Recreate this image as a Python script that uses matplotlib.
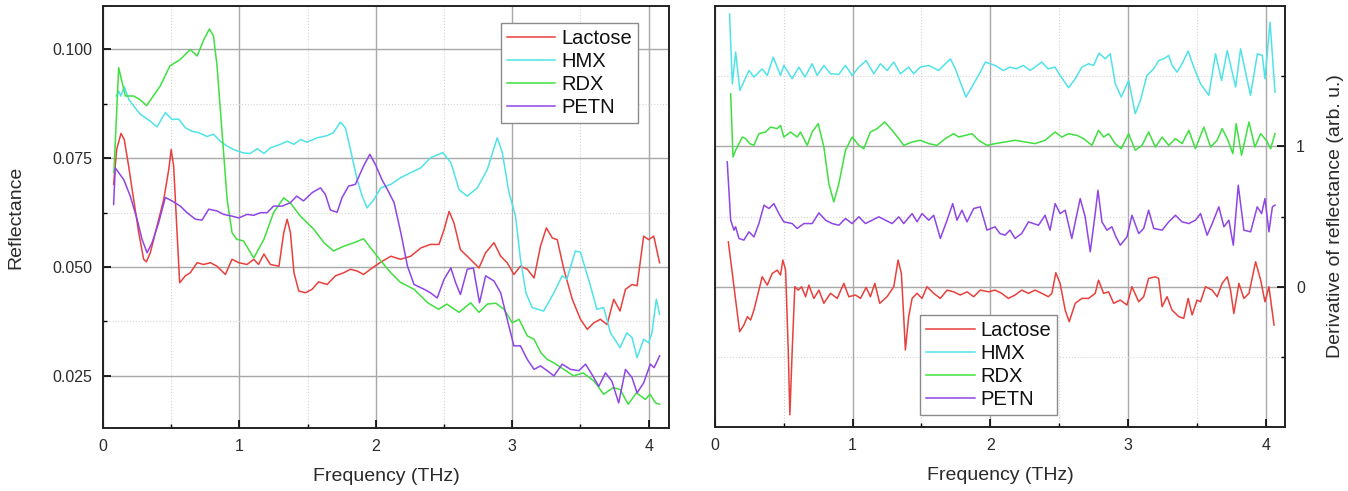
import matplotlib
matplotlib.use("Agg")
import matplotlib.pyplot as plt
from matplotlib.ticker import MultipleLocator, FixedLocator, FormatStrFormatter

plt.rcParams['font.family'] = ['Liberation Sans', 'DejaVu Sans']

# ---- left panel: reflectance ----
lac_f = [0.078, 0.10, 0.132, 0.156, 0.188, 0.225, 0.262, 0.298, 0.318, 0.347, 0.396, 0.445, 0.482, 0.50, 0.518,
         0.543, 0.562, 0.604, 0.64, 0.69, 0.738, 0.787, 0.836, 0.897, 0.946, 0.995, 1.056, 1.105, 1.14, 1.18,
         1.227, 1.29, 1.325, 1.35, 1.374, 1.40, 1.435, 1.484, 1.533, 1.58, 1.643, 1.704, 1.765, 1.814, 1.863,
         1.91, 1.973, 2.03, 2.11, 2.18, 2.256, 2.33, 2.40, 2.463, 2.50, 2.537, 2.573, 2.62, 2.683, 2.756,
         2.805, 2.866, 2.915, 2.963, 3.012, 3.06, 3.11, 3.16, 3.207, 3.25, 3.293, 3.33, 3.378, 3.44, 3.50,
         3.55, 3.598, 3.646, 3.695, 3.744, 3.79, 3.83, 3.878, 3.915, 3.963, 4.0, 4.037, 4.08]
lac_r = [0.069, 0.077, 0.0807, 0.0793, 0.0732, 0.0655, 0.0579, 0.0518, 0.0512, 0.0533, 0.0594, 0.0655, 0.0724, 0.077, 0.0732,
         0.0579, 0.0464, 0.048, 0.0487, 0.051, 0.0506, 0.051, 0.0502, 0.0483, 0.0518, 0.051, 0.0506, 0.0518, 0.0506, 0.053,
         0.0506, 0.0502, 0.0579, 0.061, 0.0579, 0.0487, 0.0445, 0.0441, 0.0449, 0.0466, 0.046, 0.048, 0.0487, 0.0495, 0.0491,
         0.0483, 0.0498, 0.051, 0.0525, 0.0518, 0.0525, 0.0544, 0.0552, 0.0552, 0.0586, 0.0628, 0.0601, 0.054, 0.0521, 0.0498,
         0.0533, 0.0556, 0.0525, 0.051, 0.0483, 0.0502, 0.0495, 0.0475, 0.0548, 0.059, 0.0567, 0.0563, 0.0495, 0.0426, 0.038,
         0.0357, 0.0372, 0.038, 0.0368, 0.0426, 0.0399, 0.0449, 0.046, 0.0457, 0.0571, 0.0563, 0.0571, 0.051]

hmx_f = [0.098, 0.115, 0.13, 0.156, 0.19, 0.225, 0.274, 0.347, 0.396, 0.457, 0.506, 0.555, 0.604, 0.653, 0.70,
         0.763, 0.81, 0.86, 0.91, 0.958, 1.03, 1.08, 1.13, 1.18, 1.227, 1.30, 1.35, 1.40, 1.447, 1.496,
         1.57, 1.643, 1.69, 1.74, 1.777, 1.814, 1.863, 1.90, 1.936, 1.985, 2.037, 2.11, 2.18, 2.256, 2.33,
         2.40, 2.49, 2.55, 2.61, 2.67, 2.744, 2.817, 2.89, 2.927, 2.976, 3.024, 3.06, 3.10, 3.146, 3.23,
         3.305, 3.366, 3.40, 3.463, 3.50, 3.573, 3.62, 3.67, 3.72, 3.79, 3.84, 3.878, 3.915, 3.963, 4.0,
         4.024, 4.056, 4.08]
hmx_r = [0.0893, 0.0904, 0.0893, 0.0914, 0.0885, 0.087, 0.0851, 0.0835, 0.0822, 0.0855, 0.0839, 0.084, 0.082, 0.0812, 0.0809,
         0.080, 0.0805, 0.0789, 0.0778, 0.077, 0.0762, 0.0761, 0.0772, 0.0761, 0.0774, 0.0782, 0.0789, 0.0782, 0.0793, 0.0787,
         0.0797, 0.0802, 0.0809, 0.0833, 0.082, 0.077, 0.0701, 0.0663, 0.0636, 0.0655, 0.0682, 0.069, 0.0705, 0.0717, 0.0728,
         0.0751, 0.0763, 0.074, 0.0678, 0.0663, 0.0682, 0.0724, 0.0797, 0.0763, 0.0671, 0.0617, 0.0518, 0.0441, 0.0407, 0.0399,
         0.0441, 0.048, 0.0472, 0.0537, 0.0534, 0.0457, 0.0403, 0.0407, 0.0349, 0.0315, 0.0349, 0.0338, 0.0292, 0.0334, 0.0326,
         0.0349, 0.0426, 0.0392]

rdx_f = [0.08, 0.115, 0.164, 0.225, 0.27, 0.32, 0.42, 0.49, 0.567, 0.64, 0.69, 0.74, 0.78, 0.81, 0.836,
         0.873, 0.91, 0.946, 0.98, 1.03, 1.105, 1.18, 1.25, 1.325, 1.374, 1.447, 1.545, 1.62, 1.69, 1.765,
         1.84, 1.91, 1.96, 2.037, 2.11, 2.18, 2.28, 2.38, 2.46, 2.52, 2.61, 2.695, 2.756, 2.817, 2.88,
         2.94, 3.0, 3.05, 3.11, 3.16, 3.21, 3.256, 3.305, 3.378, 3.45, 3.52, 3.6, 3.67, 3.74, 3.79,
         3.85, 3.91, 3.976, 4.01, 4.05, 4.08]
rdx_r = [0.0717, 0.0958, 0.0893, 0.0893, 0.0885, 0.0871, 0.0916, 0.0962, 0.0977, 0.100, 0.0985, 0.1023, 0.1047, 0.1031, 0.0962,
         0.0809, 0.0655, 0.0579, 0.0564, 0.056, 0.0521, 0.0564, 0.0625, 0.0659, 0.0647, 0.0617, 0.0587, 0.0556, 0.0537, 0.0548,
         0.0556, 0.0565, 0.0545, 0.0514, 0.0487, 0.0465, 0.0449, 0.0418, 0.0403, 0.0415, 0.0396, 0.0418, 0.0396, 0.0415, 0.0417,
         0.0403, 0.0372, 0.038, 0.0342, 0.0334, 0.0303, 0.0288, 0.028, 0.0265, 0.025, 0.0257, 0.0238, 0.0208, 0.0223, 0.0219,
         0.0185, 0.0211, 0.0196, 0.0208, 0.0188, 0.0185]

petn_f = [0.078, 0.09, 0.115, 0.152, 0.20, 0.25, 0.286, 0.323, 0.36, 0.408, 0.457, 0.506, 0.567, 0.616, 0.677,
          0.726, 0.775, 0.836, 0.885, 0.946, 0.995, 1.056, 1.105, 1.154, 1.203, 1.25, 1.313, 1.374, 1.42, 1.47,
          1.533, 1.594, 1.63, 1.667, 1.716, 1.753, 1.80, 1.85, 1.91, 1.956, 1.998, 2.046, 2.085, 2.134, 2.183,
          2.232, 2.28, 2.354, 2.40, 2.45, 2.50, 2.55, 2.585, 2.62, 2.67, 2.715, 2.76, 2.805, 2.866, 2.915,
          2.963, 3.012, 3.06, 3.11, 3.16, 3.207, 3.256, 3.305, 3.366, 3.427, 3.488, 3.537, 3.585, 3.634, 3.683,
          3.73, 3.78, 3.83, 3.878, 3.915, 3.963, 4.012, 4.04, 4.08]
petn_r = [0.0644, 0.0728, 0.0717, 0.0701, 0.0663, 0.061, 0.0564, 0.0533, 0.0556, 0.0602, 0.066, 0.0652, 0.064, 0.0625, 0.061,
          0.0608, 0.0633, 0.0629, 0.0621, 0.0617, 0.0613, 0.0621, 0.0619, 0.0625, 0.0625, 0.064, 0.064, 0.0648, 0.0663, 0.0652,
          0.0671, 0.0682, 0.0667, 0.0631, 0.0626, 0.066, 0.0686, 0.069, 0.0732, 0.0759, 0.0735, 0.0700, 0.0678, 0.0648, 0.0579,
          0.0502, 0.046, 0.0449, 0.0441, 0.0429, 0.0472, 0.0498, 0.0464, 0.0437, 0.0495, 0.0498, 0.0418, 0.048, 0.0468, 0.0441,
          0.038, 0.0319, 0.0319, 0.0288, 0.0265, 0.0273, 0.0262, 0.025, 0.0277, 0.0265, 0.0262, 0.0277, 0.0253, 0.0226, 0.0257,
          0.0238, 0.0188, 0.0265, 0.0246, 0.0211, 0.0234, 0.0277, 0.0269, 0.0296]

# ---- right panel: derivative (offset traces, arb. u.) ----
lac_df = [0.097, 0.126, 0.150, 0.179, 0.210, 0.235, 0.259, 0.283, 0.319, 0.343, 0.380, 0.416, 0.452, 0.476, 0.493,
          0.513, 0.532, 0.544, 0.561, 0.580, 0.605, 0.629, 0.658, 0.682, 0.718, 0.755, 0.791, 0.839, 0.888, 0.936,
          0.972, 1.021, 1.057, 1.098, 1.129, 1.161, 1.197, 1.250, 1.299, 1.330, 1.354, 1.371, 1.383, 1.407, 1.432,
          1.468, 1.504, 1.540, 1.589, 1.637, 1.686, 1.734, 1.782, 1.831, 1.879, 1.927, 1.988,
          2.034, 2.083, 2.131, 2.180, 2.228, 2.277, 2.325, 2.374, 2.422, 2.447, 2.476, 2.507, 2.544, 2.573, 2.617,
          2.665, 2.714, 2.762, 2.786, 2.823, 2.859, 2.896, 2.944, 2.993, 3.029, 3.078, 3.114, 3.150, 3.199, 3.223,
          3.248, 3.284, 3.320, 3.369, 3.405, 3.437, 3.466, 3.502, 3.527, 3.563, 3.612, 3.648, 3.684, 3.721, 3.745,
          3.769, 3.806, 3.842, 3.879, 3.927, 3.964, 3.995, 4.024, 4.061]
lac_d = [0.320, 0.095, -0.095, -0.320, -0.273, -0.213, -0.237, -0.166, -0.024, 0.071, 0.012, 0.095, 0.118, 0.083, 0.190,
         0.118, -0.450, -0.912, -0.450, 0.0, -0.024, 0.0, -0.071, 0.012, -0.083, -0.024, -0.118, -0.047, -0.083, 0.024,
         -0.071, -0.059, -0.083, -0.005, -0.071, 0.024, -0.118, -0.071, 0.0, 0.190, 0.095, -0.213, -0.450, -0.213, -0.083,
         -0.047, -0.083, 0.0, -0.047, -0.083, -0.024, -0.036, -0.059, -0.036, -0.071, -0.024, -0.036,
         -0.024, -0.047, -0.083, -0.059, -0.024, -0.047, -0.024, -0.047, -0.071, -0.047, 0.100, 0.024, -0.166, -0.249, -0.118,
         -0.083, -0.083, -0.047, 0.047, -0.047, -0.036, -0.118, -0.095, -0.130, 0.0, -0.107, -0.071, 0.059, 0.071, 0.059,
         -0.142, -0.071, -0.166, -0.213, -0.225, -0.083, -0.201, -0.095, -0.107, 0.0, -0.024, -0.071, 0.024, 0.071, -0.024,
         -0.190, 0.024, -0.083, -0.047, 0.178, 0.047, -0.107, 0.0, -0.273]

hmx_df = [0.106, 0.126, 0.150, 0.181, 0.247, 0.283, 0.343, 0.380, 0.423, 0.476, 0.50, 0.561, 0.609, 0.653, 0.706,
          0.742, 0.791, 0.839, 0.90, 0.948, 0.996, 1.045, 1.098, 1.154, 1.202, 1.25, 1.299, 1.347, 1.407, 1.444,
          1.492, 1.553, 1.625, 1.661, 1.71, 1.746, 1.782, 1.823, 1.879, 1.927, 1.964,
          2.034, 2.095, 2.143, 2.19, 2.24, 2.29, 2.374, 2.42, 2.47, 2.507, 2.568, 2.617, 2.665, 2.714, 2.75,
          2.79, 2.835, 2.871, 2.908, 2.951, 3.005, 3.053, 3.09, 3.138, 3.187, 3.223, 3.26, 3.296, 3.32, 3.357,
          3.393, 3.437, 3.478, 3.527, 3.587, 3.636, 3.68, 3.721, 3.757, 3.782, 3.818, 3.854, 3.89, 3.94, 3.976,
          3.995, 4.032, 4.068]
hmx_d = [1.943, 1.445, 1.671, 1.398, 1.540, 1.493, 1.552, 1.505, 1.635, 1.505, 1.576, 1.481, 1.564, 1.493, 1.588,
         1.505, 1.576, 1.517, 1.512, 1.576, 1.505, 1.564, 1.611, 1.517, 1.588, 1.540, 1.600, 1.517, 1.564, 1.517,
         1.564, 1.576, 1.540, 1.576, 1.623, 1.552, 1.457, 1.351, 1.445, 1.528, 1.600,
         1.576, 1.540, 1.564, 1.552, 1.576, 1.540, 1.600, 1.552, 1.564, 1.505, 1.417, 1.481, 1.564, 1.588, 1.576,
         1.664, 1.623, 1.659, 1.445, 1.351, 1.469, 1.232, 1.327, 1.505, 1.552, 1.611, 1.623, 1.647, 1.576, 1.528,
         1.588, 1.678, 1.564, 1.445, 1.363, 1.659, 1.469, 1.682, 1.528, 1.422, 1.694, 1.528, 1.363, 1.659, 1.647,
         1.481, 1.884, 1.386]

rdx_df = [0.114, 0.131, 0.150, 0.174, 0.198, 0.222, 0.252, 0.283, 0.319, 0.368, 0.404, 0.452, 0.476, 0.50, 0.549,
          0.597, 0.621, 0.670, 0.706, 0.750, 0.791, 0.827, 0.863, 0.90, 0.948, 0.996, 1.045, 1.081, 1.129, 1.178,
          1.233, 1.287, 1.335, 1.371, 1.432, 1.492, 1.553, 1.613, 1.673, 1.734, 1.770, 1.819, 1.867, 1.915, 1.976,
          2.034, 2.107, 2.180, 2.252, 2.325, 2.398, 2.471, 2.519, 2.568, 2.629, 2.677, 2.738, 2.786, 2.823, 2.859,
          2.908, 2.951, 3.005, 3.053, 3.102, 3.150, 3.199, 3.248, 3.296, 3.345, 3.393, 3.442, 3.490, 3.551, 3.600,
          3.648, 3.684, 3.721, 3.762, 3.786, 3.825, 3.879, 3.922, 3.964, 4.005, 4.036, 4.068]
rdx_d = [1.374, 0.924, 0.972, 1.019, 1.066, 1.055, 1.019, 1.007, 1.090, 1.102, 1.137, 1.126, 1.149, 1.066, 1.102,
         1.066, 1.102, 1.007, 1.102, 1.161, 0.995, 0.735, 0.604, 0.735, 0.972, 1.066, 1.007, 0.983, 1.102, 1.126,
         1.173, 1.114, 1.055, 1.007, 1.031, 1.043, 1.019, 1.007, 1.055, 1.090, 1.066, 1.078, 1.090, 1.043, 1.007,
         1.019, 1.031, 1.043, 1.031, 1.019, 1.043, 1.102, 1.066, 1.090, 1.078, 1.055, 1.007, 1.114, 1.066, 1.090,
         1.019, 0.983, 1.090, 0.972, 1.007, 1.102, 0.995, 1.066, 1.007, 1.055, 1.019, 1.114, 0.983, 1.137, 0.995,
         1.043, 1.126, 1.055, 0.948, 1.161, 0.936, 1.173, 0.995, 1.090, 1.043, 0.983, 1.090]

petn_df = [0.089, 0.114, 0.138, 0.150, 0.174, 0.210, 0.247, 0.283, 0.319, 0.356, 0.392, 0.428, 0.464, 0.50, 0.561,
           0.597, 0.646, 0.706, 0.755, 0.803, 0.851, 0.90, 0.948, 0.996, 1.045, 1.093, 1.142, 1.190, 1.238, 1.287,
           1.335, 1.371, 1.432, 1.468, 1.504, 1.553, 1.589, 1.637, 1.686, 1.727, 1.758, 1.794, 1.831, 1.879, 1.927,
           1.976, 2.034, 2.070, 2.107, 2.143, 2.180, 2.228, 2.277, 2.313, 2.350, 2.398, 2.434, 2.471, 2.507, 2.544,
           2.592, 2.653, 2.689, 2.726, 2.762, 2.782, 2.811, 2.847, 2.883, 2.913, 2.944, 2.993, 3.029, 3.078, 3.114,
           3.150, 3.187, 3.248, 3.296, 3.345, 3.393, 3.442, 3.490, 3.527, 3.575, 3.612, 3.660, 3.697, 3.733, 3.765,
           3.801, 3.842, 3.891, 3.939, 3.971, 3.995, 4.024, 4.049, 4.068]
petn_d = [0.889, 0.474, 0.403, 0.427, 0.344, 0.332, 0.391, 0.355, 0.450, 0.581, 0.557, 0.592, 0.521, 0.462, 0.450,
          0.415, 0.450, 0.450, 0.526, 0.474, 0.450, 0.438, 0.486, 0.450, 0.498, 0.450, 0.474, 0.498, 0.474, 0.450,
          0.498, 0.450, 0.521, 0.462, 0.521, 0.474, 0.509, 0.344, 0.474, 0.592, 0.474, 0.545, 0.462, 0.557, 0.569,
          0.403, 0.427, 0.379, 0.367, 0.403, 0.344, 0.379, 0.462, 0.450, 0.438, 0.509, 0.403, 0.592, 0.521, 0.545,
          0.344, 0.628, 0.498, 0.249, 0.521, 0.687, 0.462, 0.403, 0.427, 0.355, 0.296, 0.355, 0.509, 0.379, 0.415,
          0.545, 0.415, 0.403, 0.462, 0.509, 0.462, 0.450, 0.474, 0.521, 0.367, 0.450, 0.569, 0.427, 0.474, 0.296,
          0.723, 0.403, 0.391, 0.569, 0.521, 0.628, 0.391, 0.569, 0.581]

names = ['Lactose', 'HMX', 'RDX', 'PETN']
colors = ['#e8403c', '#4fe3e8', '#3fe03f', '#8f45e6']

txt = '#2a2a2a'
fig = plt.figure(figsize=(13.48, 4.91), dpi=100)
ax1 = fig.add_axes([0.0764, 0.128, 0.420, 0.860])
ax2 = fig.add_axes([0.5304, 0.130, 0.4228, 0.858])

refl = [(lac_f, lac_r), (hmx_f, hmx_r), (rdx_f, rdx_r), (petn_f, petn_r)]
deriv = [(lac_df, lac_d), (hmx_df, hmx_d), (rdx_df, rdx_d), (petn_df, petn_d)]

for (x, y), c, n in zip(refl, colors, names):
    ax1.plot(x, y, color=c, lw=1.1, label=n)
for (x, y), c, n in zip(deriv, colors, names):
    ax2.plot(x, y, color=c, lw=1.1, label=n)

ax1.set_xlim(0, 4.15)
ax1.set_ylim(0.013, 0.110)
ax1.yaxis.set_major_locator(FixedLocator([0.025, 0.050, 0.075, 0.100]))
ax1.yaxis.set_major_formatter(FormatStrFormatter('%.3f'))
ax1.yaxis.set_minor_locator(MultipleLocator(0.0125))
ax1.set_ylabel('Reflectance', fontsize=14, color=txt, labelpad=20)

ax2.set_xlim(0, 4.14)
ax2.set_ylim(-1.0, 2.0)
ax2.yaxis.set_major_locator(FixedLocator([0, 1]))
ax2.yaxis.set_minor_locator(FixedLocator([-0.5, 0.5, 1.5]))
ax2.yaxis.tick_right()
ax2.yaxis.set_label_position('right')
ax2.set_ylabel('Derivative of reflectance (arb. u.)', fontsize=14, color=txt, labelpad=16)

for ax in (ax1, ax2):
    ax.xaxis.set_major_locator(MultipleLocator(1))
    ax.xaxis.set_minor_locator(MultipleLocator(0.5))
    ax.set_xlabel('Frequency (THz)', fontsize=14, color=txt, labelpad=10)
    ax.grid(which='major', color='#a8a8a8', lw=1.0, ls='-')
    ax.grid(which='minor', color='#d4d4d4', lw=0.8, ls=':')
    ax.set_axisbelow(True)
    ax.tick_params(which='major', direction='in', length=6, width=1.2, labelsize=11.5,
                   labelcolor=txt, pad=8)
    ax.tick_params(which='minor', direction='in', length=3, width=1.0)
    for s in ax.spines.values():
        s.set_color('#222222')
        s.set_linewidth(1.4)

leg_kw = dict(fontsize=14.5, frameon=True, fancybox=False, framealpha=1, edgecolor='#8a8a8a',
              handlelength=2.4, handletextpad=0.3, labelspacing=0.2, borderpad=0.3, borderaxespad=0)
l1 = ax1.legend(loc='upper right', bbox_to_anchor=(0.945, 0.960), **leg_kw)
l2 = ax2.legend(loc='lower left', bbox_to_anchor=(0.36, 0.028), **leg_kw)
for lg in (l1, l2):
    lg.get_frame().set_linewidth(1.0)
    for t in lg.get_texts():
        t.set_color('#111111')

fig.savefig('out.png', dpi=100)
